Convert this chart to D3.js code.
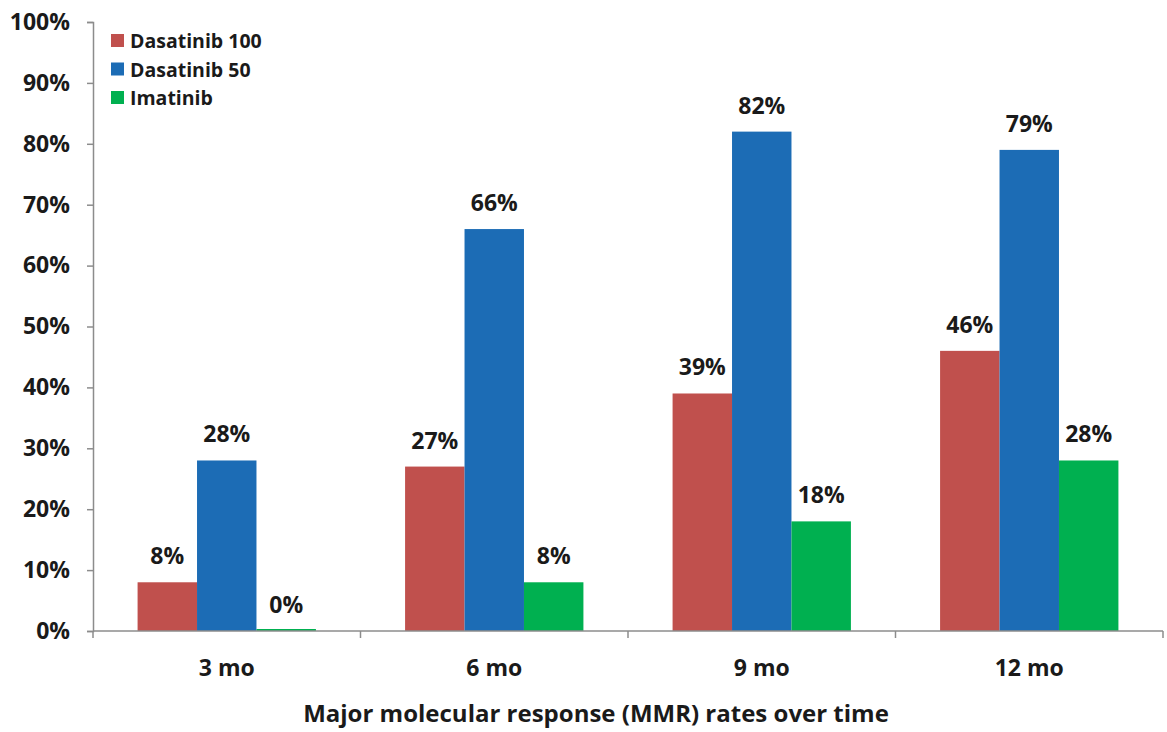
<!DOCTYPE html>
<html>
<head>
<meta charset="utf-8">
<script src="https://cdn.jsdelivr.net/npm/d3@7"></script>
<style>
  html, body { margin: 0; padding: 0; background: #fff; }
  svg { display: block; font-family: "Open Sans", "Noto Sans", sans-serif; font-weight: 700; }
</style>
</head>
<body>
<svg id="chart" width="1167" height="732"></svg>
<script>
// MMR rates by time point and treatment arm
const categories = ["3 mo", "6 mo", "9 mo", "12 mo"];
const seriesNames = ["Dasatinib 100", "Dasatinib 50", "Imatinib"];
const dasatinib100 = [8, 27, 39, 46];
const dasatinib50 = [28, 66, 82, 79];
const imatinib = [0, 8, 18, 28];
const yTicks = [0, 10, 20, 30, 40, 50, 60, 70, 80, 90, 100];
const colors = ["#C0504D", "#1C6CB5", "#00B050"];
const xTitle = "Major molecular response (MMR) rates over time";

const seriesValues = [dasatinib100, dasatinib50, imatinib];

const svg = d3.select("#chart");
const margin = { left: 93, right: 4, top: 22, bottom: 101 };
const W = 1167, H = 732;
const innerW = W - margin.left - margin.right;
const innerH = H - margin.top - margin.bottom;
const textColor = "#1a1a1a";

const g = svg.append("g").attr("transform", `translate(${margin.left},${margin.top})`);

const x0 = d3.scaleBand().domain(categories).range([0, innerW]).paddingInner(0).paddingOuter(0);
const groupPad = x0.bandwidth() / 6;
const x1 = d3.scaleBand().domain(seriesNames).range([groupPad, x0.bandwidth() - groupPad]).padding(0);
const y = d3.scaleLinear().domain([0, 100]).range([innerH, 0]);

// Bars with value labels above
const groups = g.selectAll("g.cat")
  .data(categories)
  .join("g")
  .attr("class", "cat")
  .attr("transform", d => `translate(${x0(d)},0)`);

groups.each(function(cat, ci) {
  const sel = d3.select(this);
  seriesNames.forEach((s, si) => {
    const v = seriesValues[si][ci];
    const h = Math.max(innerH - y(v), 2);
    sel.append("rect")
      .attr("x", x1(s))
      .attr("y", innerH - h)
      .attr("width", x1.bandwidth())
      .attr("height", h)
      .attr("fill", colors[si]);
    sel.append("text")
      .attr("x", x1(s) + x1.bandwidth() / 2)
      .attr("y", y(v) - 18)
      .attr("text-anchor", "middle")
      .attr("font-size", 23)
      .attr("fill", textColor)
      .text(v + "%");
  });
});

// Y axis
const yAxis = d3.axisLeft(y).tickValues(yTicks).tickFormat(d => d + "%").tickSize(6).tickPadding(17);
const ya = g.append("g").call(yAxis);
ya.select(".domain").attr("stroke", "#8c8c8c").attr("stroke-width", 1.5);
ya.selectAll(".tick line").attr("stroke", "#8c8c8c").attr("stroke-width", 1.5);
ya.selectAll(".tick text").attr("font-size", 23).attr("fill", textColor)
  .attr("font-family", "'Open Sans', sans-serif").attr("font-weight", 700);

// X axis: baseline with ticks at category boundaries
const xa = g.append("g").attr("transform", `translate(0,${innerH})`);
xa.append("line").attr("x1", 0).attr("x2", innerW).attr("y1", 0).attr("y2", 0)
  .attr("stroke", "#8c8c8c").attr("stroke-width", 1.5);
const bounds = categories.map(c => x0(c)).concat([x0(categories[categories.length - 1]) + x0.bandwidth()]);
xa.selectAll("line.tk").data(bounds).join("line").attr("class", "tk")
  .attr("x1", d => d).attr("x2", d => d).attr("y1", 0).attr("y2", 7)
  .attr("stroke", "#8c8c8c").attr("stroke-width", 1.5);
xa.selectAll("text.cl").data(categories).join("text").attr("class", "cl")
  .attr("x", d => x0(d) + x0.bandwidth() / 2)
  .attr("y", 45)
  .attr("text-anchor", "middle")
  .attr("font-size", 23)
  .attr("fill", textColor)
  .text(d => d);

// Axis title
svg.append("text")
  .attr("x", 596)
  .attr("y", 722)
  .attr("text-anchor", "middle")
  .attr("font-size", 24)
  .attr("fill", textColor)
  .text(xTitle);

// Legend
const legend = svg.append("g").attr("transform", "translate(111,34)");
seriesNames.forEach((s, i) => {
  const row = legend.append("g").attr("transform", `translate(0,${i * 28.5})`);
  row.append("rect").attr("x", 0).attr("y", 0).attr("width", 13).attr("height", 13).attr("fill", colors[i]);
  row.append("text").attr("x", 19).attr("y", 14).attr("font-size", 19.5).attr("fill", textColor).text(s);
});
</script>
</body>
</html>
